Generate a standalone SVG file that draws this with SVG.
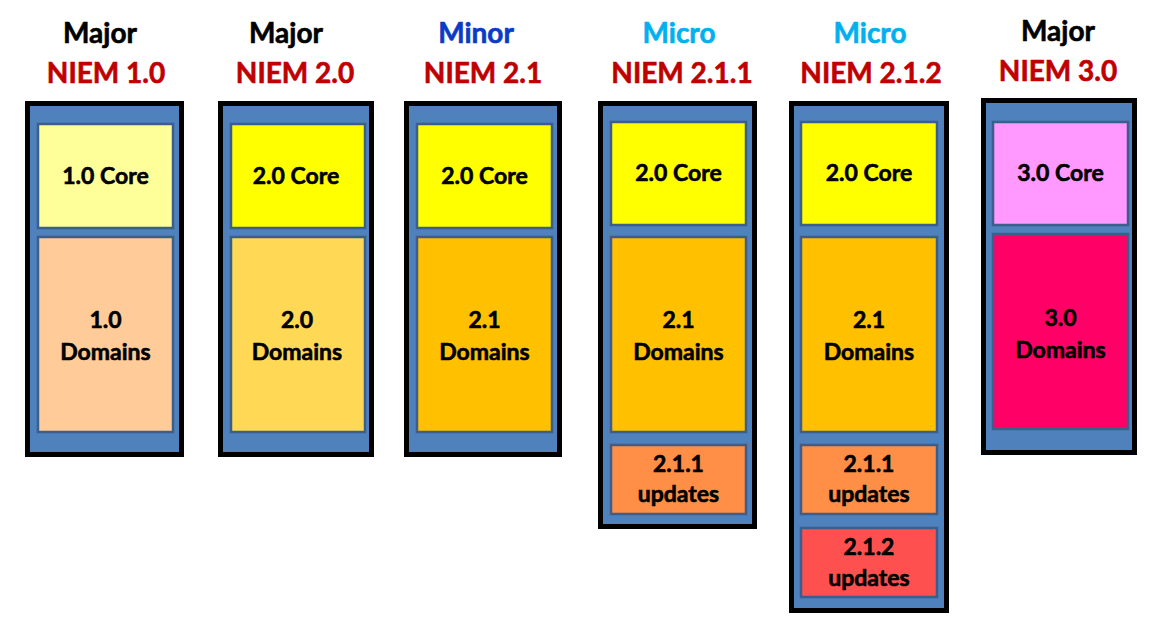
<svg xmlns="http://www.w3.org/2000/svg" width="1159" height="636" viewBox="0 0 1159 636">
<style>
.bg{fill:#fff}
.outer{fill:#4F81BD;stroke:#000;stroke-width:5}
.inner{stroke:#3B5E8C;stroke-width:2.5}
text{font-family:Lato,"Open Sans","Liberation Sans",sans-serif;font-weight:bold;text-anchor:middle;stroke-width:0.6}
.kind{font-size:28px}
.ver{font-size:28px;fill:#C00000;stroke:#C00000}
.lbl{font-size:23px;fill:#000;stroke:#000}
.major{fill:#000;stroke:#000}
.minor{fill:#0B3BC6;stroke:#0B3BC6}
.micro{fill:#00B0F0;stroke:#00B0F0}
</style>
<rect class="bg" x="0" y="0" width="1159" height="636"/>
<g id="niem10">
<text class="kind major" x="100" y="43">Major</text>
<text class="ver" x="106" y="83">NIEM 1.0</text>
<rect class="outer" x="27.5" y="103.5" width="154" height="351"/>
<rect class="inner" x="38" y="124" width="135" height="104" fill="#FFFF99"/>
<text class="lbl" x="105.5" y="184">1.0 Core</text>
<rect class="inner" x="38" y="237" width="135" height="195" fill="#FFCC99"/>
<text class="lbl" x="105.5" y="328">1.0</text>
<text class="lbl" x="105.5" y="360">Domains</text>
</g>
<g id="niem20">
<text class="kind major" x="286" y="43">Major</text>
<text class="ver" x="295" y="83">NIEM 2.0</text>
<rect class="outer" x="220.5" y="103.5" width="151" height="351"/>
<rect class="inner" x="231" y="124" width="134" height="104" fill="#FFFF00"/>
<text class="lbl" x="296" y="184">2.0 Core</text>
<rect class="inner" x="231" y="237" width="134" height="195" fill="#FFD955"/>
<text class="lbl" x="297" y="328">2.0</text>
<text class="lbl" x="297" y="360">Domains</text>
</g>
<g id="niem21">
<text class="kind minor" x="476" y="43">Minor</text>
<text class="ver" x="483" y="83">NIEM 2.1</text>
<rect class="outer" x="406.5" y="103.5" width="153" height="351"/>
<rect class="inner" x="417" y="124" width="135" height="104" fill="#FFFF00"/>
<text class="lbl" x="484.5" y="184">2.0 Core</text>
<rect class="inner" x="417" y="237" width="135" height="195" fill="#FFC000"/>
<text class="lbl" x="484.5" y="328">2.1</text>
<text class="lbl" x="484.5" y="360">Domains</text>
</g>
<g id="niem211">
<text class="kind micro" x="679" y="43">Micro</text>
<text class="ver" x="682" y="83">NIEM 2.1.1</text>
<rect class="outer" x="600.5" y="103.5" width="154" height="423"/>
<rect class="inner" x="611" y="122" width="135" height="103" fill="#FFFF00"/>
<text class="lbl" x="678.5" y="181">2.0 Core</text>
<rect class="inner" x="611" y="237" width="135" height="195" fill="#FFC000"/>
<text class="lbl" x="678.5" y="328">2.1</text>
<text class="lbl" x="678.5" y="360">Domains</text>
<rect class="inner" x="611" y="445" width="135" height="69" fill="#FF8F47"/>
<text class="lbl" x="678.5" y="472">2.1.1</text>
<text class="lbl" x="678.5" y="502">updates</text>
</g>
<g id="niem212">
<text class="kind micro" x="870" y="43">Micro</text>
<text class="ver" x="871" y="83">NIEM 2.1.2</text>
<rect class="outer" x="791.5" y="103.5" width="155" height="507"/>
<rect class="inner" x="801" y="122" width="136" height="103" fill="#FFFF00"/>
<text class="lbl" x="869" y="181">2.0 Core</text>
<rect class="inner" x="801" y="237" width="136" height="195" fill="#FFC000"/>
<text class="lbl" x="869" y="328">2.1</text>
<text class="lbl" x="869" y="360">Domains</text>
<rect class="inner" x="801" y="445" width="136" height="69" fill="#FF8F47"/>
<text class="lbl" x="869" y="472">2.1.1</text>
<text class="lbl" x="869" y="502">updates</text>
<rect class="inner" x="801" y="528" width="136" height="69" fill="#FF5050"/>
<text class="lbl" x="869" y="555">2.1.2</text>
<text class="lbl" x="869" y="586">updates</text>
</g>
<g id="niem30">
<text class="kind major" x="1058" y="41">Major</text>
<text class="ver" x="1058" y="81">NIEM 3.0</text>
<rect class="outer" x="983.5" y="100.5" width="151" height="352"/>
<rect class="inner" x="993" y="122" width="135" height="103" fill="#FF99FF"/>
<text class="lbl" x="1060.5" y="181">3.0 Core</text>
<rect class="inner" x="993" y="234" width="135" height="195" fill="#FF0066"/>
<text class="lbl" x="1060.5" y="326">3.0</text>
<text class="lbl" x="1060.5" y="358">Domains</text>
</g>
<g id="connectors"/>
</svg>
